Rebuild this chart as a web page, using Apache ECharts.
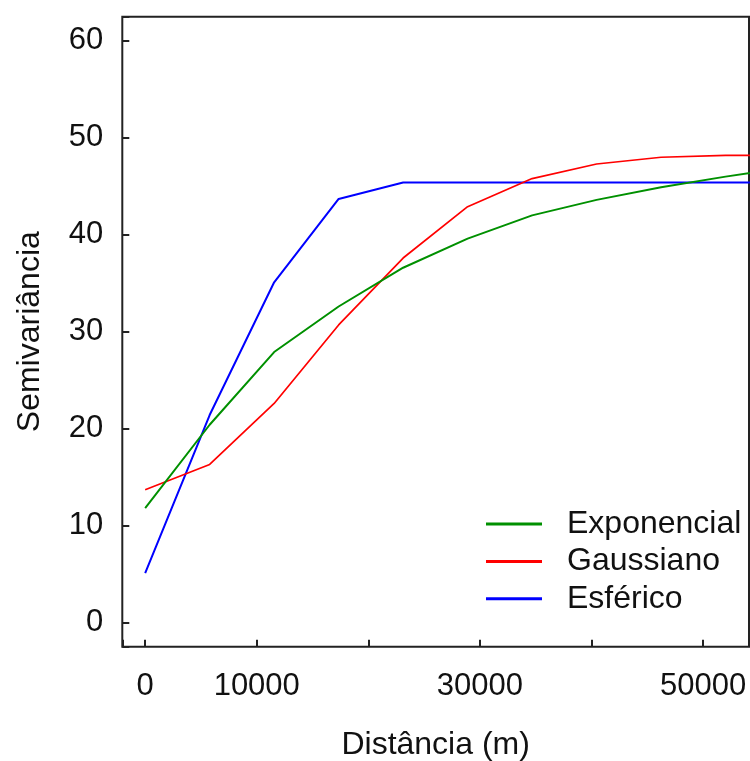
<!DOCTYPE html>
<html>
<head>
<meta charset="utf-8">
<script src="https://cdn.jsdelivr.net/npm/echarts@6/dist/echarts.min.js"></script>
<style>
html,body{margin:0;padding:0;background:#fff;}
#chart{width:750px;height:761px;}
</style>
</head>
<body>
<div id="chart"></div>
<script>
// Distância (m) at which the model curves were sampled
const distancia = [0, 5780, 11560, 17340, 23120, 28900, 34680, 40460, 46240, 52020, 57800];
const exponencial = [11.8, 20.4, 27.9, 32.6, 36.6, 39.6, 42.0, 43.6, 44.9, 46.0, 47.0];
const gaussiano = [13.7, 16.3, 22.6, 30.7, 37.6, 42.9, 45.8, 47.3, 48.0, 48.2, 48.2];
const esferico = [5.1, 21.4, 35.1, 43.7, 45.4, 45.4, 45.4, 45.4, 45.4, 45.4, 45.4];

const xTickLabels = [0, 10000, 30000, 50000];
const yTickLabels = [0, 10, 20, 30, 40, 50, 60];

const seriesNames = ['Exponencial', 'Gaussiano', 'Esférico'];
const seriesColors = ['#009000', '#ff0000', '#0000ff'];
const seriesWidths = [2, 1.7, 2];
const seriesValues = [exponencial, gaussiano, esferico];

const FONT = '"Liberation Sans", Arial, sans-serif';
const chart = echarts.init(document.getElementById('chart'), null, {renderer: 'canvas'});

chart.setOption({
  animation: false,
  backgroundColor: '#ffffff',
  grid: {
    left: 122.3, top: 16.7, right: 1, bottom: 114.3,
    show: true, borderColor: '#222', borderWidth: 2, backgroundColor: 'transparent',
    containLabel: false,
    outerBoundsMode: 'none'
  },
  legend: {
    orient: 'vertical',
    left: 486, top: 508,
    padding: 0,
    itemWidth: 56, itemHeight: 3, itemGap: 5.4,
    icon: 'rect',
    selectedMode: false,
    data: seriesNames,
    textStyle: {fontFamily: FONT, fontSize: 32, color: '#111', lineHeight: 32, padding: [0, 0, 0, 20]}
  },
  xAxis: {
    type: 'value',
    min: -2050, max: 54120,
    splitNumber: 5,
    name: 'Distância (m)',
    nameLocation: 'middle',
    nameGap: 82,
    nameTextStyle: {fontFamily: FONT, fontSize: 32, color: '#111'},
    axisLine: {show: false, onZero: false},
    axisTick: {show: true, inside: true, length: 7, lineStyle: {color: '#222', width: 2}},
    splitLine: {show: false},
    axisLabel: {
      margin: 24, fontFamily: FONT, fontSize: 31, color: '#111',
      showMinLabel: true, showMaxLabel: true, hideOverlap: false,
      formatter: v => xTickLabels.includes(v) ? String(v) : ''
    }
  },
  yAxis: {
    type: 'value',
    min: -2.5, max: 62.5,
    splitNumber: 6,
    name: 'Semivariância',
    nameLocation: 'middle',
    nameGap: 76,
    nameTextStyle: {fontFamily: FONT, fontSize: 32, color: '#111'},
    axisLine: {show: false, onZero: false},
    axisTick: {show: true, inside: true, length: 7, lineStyle: {color: '#222', width: 2}},
    splitLine: {show: false},
    axisLabel: {
      margin: 19, fontFamily: FONT, fontSize: 31, color: '#111',
      hideOverlap: false, padding: [8, 0, 0, 0],
      formatter: v => yTickLabels.includes(v) ? String(v) : ''
    }
  },
  series: seriesNames.map((name, i) => ({
    name: name,
    type: 'line',
    data: distancia.map((d, j) => [d, seriesValues[i][j]]),
    showSymbol: false,
    symbol: 'none',
    clip: true,
    color: seriesColors[i],
    itemStyle: {color: seriesColors[i]},
    lineStyle: {color: seriesColors[i], width: seriesWidths[i]},
    z: 3 - i
  }))
});
</script>
</body>
</html>
